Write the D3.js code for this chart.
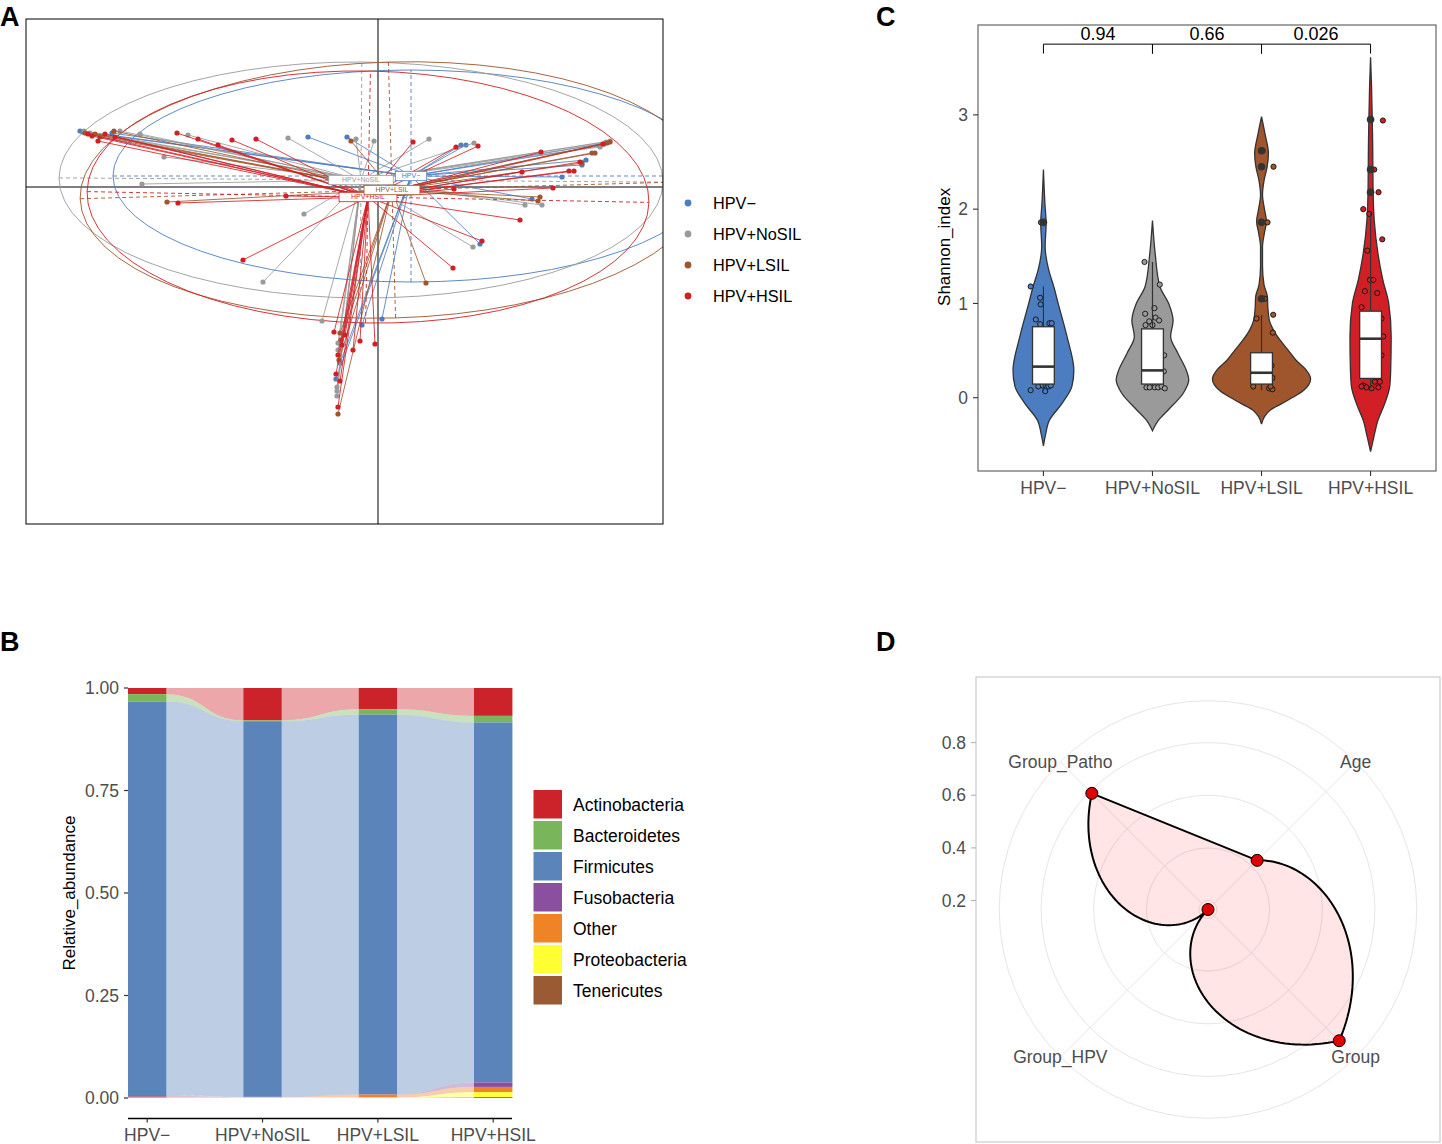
<!DOCTYPE html>
<html><head><meta charset="utf-8">
<script src="https://cdn.jsdelivr.net/npm/d3@7"></script>
<style>
body{margin:0;background:#fff}
svg{display:block}
text{font-family:"Liberation Sans",Arial,Helvetica,sans-serif}
</style>
</head><body>
<svg id="fig" width="1442" height="1144"></svg>
<script>
// ===================== DATA =====================
const groups = ["HPV−","HPV+NoSIL","HPV+LSIL","HPV+HSIL"];
const groupColors = ["#4C7DC0","#9A9A9A","#A0562C","#D21F26"];

// ---- Panel A (ordination, axis units) ----
const pcoaXLim = [-1.76, 1.425];
const pcoaYLim = [-1.685, 0.84];
const centroidX = [0.165, -0.085, 0.07, -0.05];
const centroidY = [0.055, 0.035, -0.015, -0.05];
const ellipseRx = [1.49, 1.51, 1.56, 1.405];
const ellipseRy = [0.53, 0.59, 0.64, 0.63];
const ellipseAngle = [0, -0.4, 1.6, -1.1];
const sitesHPVneg = [[-1.49,0.28],[-1.475,0.275],[-1.33,0.27],[-0.35,0.25],[-0.155,0.25],[0.415,0.21],[0.44,0.21],[1.04,0.135],[1.02,0.11],[0.92,0.05],[0.77,-0.06],[0.51,-0.285],[0.02,-0.66],[-0.08,-0.69],[-0.21,-0.96],[-0.19,-0.88],[1.135,0.22],[1.11,0.205]];
const sitesNoSIL = [[-1.47,0.28],[-1.44,0.27],[-1.29,0.28],[-1.19,0.265],[-1.07,0.15],[-1.18,0.015],[-0.95,0.26],[-0.45,0.245],[-0.11,0.24],[-0.02,0.23],[0.255,0.24],[0.48,0.22],[1.16,0.23],[1.14,0.225],[1.11,0.20],[1.13,0.215],[0.735,-0.09],[0.82,-0.09],[0.475,-0.30],[-0.37,-0.135],[-0.575,-0.475],[-0.28,-0.67],[-0.20,-0.78],[-0.20,-0.815],[-0.205,-1.00],[-0.205,-1.02],[-0.205,-1.045]];
const sitesLSIL = [[-1.465,0.27],[-1.415,0.265],[-1.32,0.28],[-1.39,0.25],[-1.055,-0.075],[-0.135,0.23],[1.16,0.225],[1.07,0.17],[1.085,0.17],[1.02,0.12],[1.145,0.22],[0.81,-0.05],[0.80,-0.07],[0.24,-0.48],[-0.19,-0.73],[-0.20,-1.135],[-0.195,-0.865],[-0.185,-0.765]];
const sitesHSIL = [[-1.40,0.23],[-1.43,0.255],[-1.365,0.265],[-1.315,0.25],[-1.45,0.265],[-1.005,0.27],[-0.90,0.24],[-0.80,0.21],[-0.73,0.235],[-0.61,0.24],[-1.00,-0.08],[-0.46,-0.045],[-0.675,-0.365],[0.175,0.225],[0.39,0.20],[0.50,0.205],[1.125,0.215],[1.01,0.125],[0.955,0.08],[0.815,0.175],[0.72,0.075],[0.875,-0.005],[0.38,-0.01],[0.71,-0.165],[0.52,-0.27],[0.375,-0.405],[-0.015,-0.785],[-0.09,-0.77],[-0.125,-0.815],[-0.22,-0.725],[-0.20,-0.84],[-0.21,-0.935],[-0.19,-0.97],[-0.20,-1.10],[-0.18,-0.79],[-0.165,-0.74],[0.98,0.08]];
const sitesByGroup = [sitesHPVneg, sitesNoSIL, sitesLSIL, sitesHSIL];

// ---- Panel B (relative abundance) ----
const taxa = ["Actinobacteria","Bacteroidetes","Firmicutes","Fusobacteria","Other","Proteobacteria","Tenericutes"];
const taxaColors = ["#CC2229","#79B55A","#5B84BB","#8B4FA0","#EE8425","#FFFF33","#9A5B34"];
const abActinobacteria = [0.015, 0.079, 0.052, 0.068];
const abBacteroidetes  = [0.018, 0.002, 0.013, 0.016];
const abFirmicutes     = [0.960, 0.916, 0.926, 0.878];
const abFusobacteria   = [0.004, 0.001, 0.001, 0.011];
const abOther          = [0.001, 0.001, 0.007, 0.013];
const abProteobacteria = [0.001, 0.001, 0.001, 0.012];
const abTenericutes    = [0.001, 0.000, 0.000, 0.002];
const abundance = [abActinobacteria, abBacteroidetes, abFirmicutes, abFusobacteria, abOther, abProteobacteria, abTenericutes];
const abundanceTicks = [0, 0.25, 0.5, 0.75, 1];
const abundanceTickLabels = ["0.00","0.25","0.50","0.75","1.00"];

// ---- Panel C (Shannon index) ----
const shannonLim = [-0.777, 3.953];
const shannonTicks = [0, 1, 2, 3];
// violin profiles: [value, relative half-width]
const violinHPVneg = [[-0.51,0],[-0.4,0.04],[-0.24,0.12],[-0.06,0.38],[0.12,0.58],[0.29,0.62],[0.65,0.48],[1.0,0.3],[1.18,0.21],[1.35,0.11],[1.6,0.035],[1.85,0.055],[2.06,0.03],[2.42,0]];
const violinNoSIL = [[-0.35,0],[-0.24,0.12],[-0.13,0.32],[0.05,0.63],[0.19,0.74],[0.29,0.69],[0.47,0.52],[0.65,0.37],[0.82,0.42],[1.0,0.33],[1.18,0.15],[1.53,0.055],[1.88,0]];
const violinLSIL = [[-0.28,0],[-0.2,0.06],[-0.13,0.18],[-0.06,0.42],[0.01,0.66],[0.08,0.86],[0.2,1.0],[0.3,0.9],[0.4,0.7],[0.5,0.55],[0.61,0.38],[0.72,0.24],[0.82,0.16],[0.95,0.13],[1.07,0.12],[1.2,0.05],[1.4,0.02],[1.6,0.02],[1.75,0.06],[1.87,0.1],[2.0,0.06],[2.15,0.02],[2.3,0.05],[2.45,0.115],[2.59,0.14],[2.8,0.07],[2.98,0]];
const violinHSIL = [[-0.57,0],[-0.41,0.07],[-0.24,0.15],[-0.06,0.29],[0.12,0.39],[0.29,0.41],[0.65,0.42],[1.0,0.37],[1.25,0.25],[1.53,0.15],[1.88,0.075],[2.24,0.05],[2.6,0.045],[2.94,0.035],[3.3,0.02],[3.61,0]];
const violins = [violinHPVneg, violinNoSIL, violinLSIL, violinHSIL];
// box stats: [lower whisker, Q1, median, Q3, upper whisker]
const boxStats = [[0.07,0.145,0.33,0.753,1.18],[0.10,0.145,0.29,0.73,1.44],[0.08,0.145,0.265,0.477,0.88],[0.10,0.205,0.626,0.918,1.97]];
const boxOutliers = [[1.86],[],[1.05,1.86,2.45,2.62],[2.18,2.42,2.95]];
// jittered points: [jitter (fraction of category step), value]
const jitterHPVneg = [[-0.117,1.18],[-0.03,1.06],[-0.025,0.99],[-0.07,0.83],[-0.03,0.78],[0.055,0.79],[0.076,0.79],[-0.117,0.08],[-0.046,0.12],[0.016,0.07],[0.046,0.12],[0.067,0.13],[-0.006,0.13],[-0.023,1.86]];
const jitterNoSIL = [[-0.073,1.44],[0.067,1.20],[-0.067,0.89],[0.018,0.95],[-0.03,0.81],[0.028,0.85],[0.061,0.82],[-0.064,0.77],[0,0.77],[0.107,0.45],[0.104,0.28],[-0.055,0.11],[-0.025,0.11],[0.021,0.11],[0.052,0.11],[0.083,0.12],[0.113,0.10]];
const jitterLSIL = [[0.11,2.45],[0.055,1.86],[0.03,1.05],[-0.046,0.84],[0.107,0.88],[0.104,0.69],[0.092,0.34],[0.1,0.21],[0.07,0.10],[0.1,0.09],[0.083,0.12],[-0.076,0.12],[0.01,2.62]];
const jitterHSIL = [[0.113,2.94],[0.034,2.42],[0.073,2.18],[-0.067,2.0],[-0.012,1.95],[0.107,1.68],[-0.03,1.56],[-0.006,1.25],[0.025,1.25],[-0.052,1.13],[0.061,1.11],[-0.083,0.96],[0.1,0.84],[0.117,0.65],[0.1,0.45],[-0.067,0.13],[-0.037,0.11],[0.009,0.10],[0.071,0.11],[0.039,0.17],[-0.083,0.12],[0.085,0.17]];
const jitters = [jitterHPVneg, jitterNoSIL, jitterLSIL, jitterHSIL];
const pairLabels = ["0.94","0.66","0.026"];
const bracketValue = 3.75;

// ---- Panel D (radar) ----
const radarVars = ["Age","Group","Group_HPV","Group_Patho"];
const radarValues = [0.43, 0.871, 0.166, 0.79];
const radarTicks = [0.2, 0.4, 0.6, 0.8];

// ===================== DRAW =====================
const svg = d3.select("#fig");
const GREY30 = "#4d4d4d";

// ---------- Panel A ----------
(function(){
  const P = {l:26, t:19, r:663, b:524};
  const x = d3.scaleLinear().domain(pcoaXLim).range([P.l, P.r]);
  const y = d3.scaleLinear().domain(pcoaYLim).range([P.b, P.t]);
  const g = svg.append("g");
  g.append("clipPath").attr("id","clipA").append("rect")
    .attr("x",P.l).attr("y",P.t).attr("width",P.r-P.l).attr("height",P.b-P.t);
  const p = g.append("g").attr("clip-path","url(#clipA)");
  p.append("line").attr("x1",x(pcoaXLim[0])).attr("x2",x(pcoaXLim[1])).attr("y1",y(0)).attr("y2",y(0)).attr("stroke","#000").attr("stroke-width",1);
  p.append("line").attr("x1",x(0)).attr("x2",x(0)).attr("y1",y(pcoaYLim[0])).attr("y2",y(pcoaYLim[1])).attr("stroke","#000").attr("stroke-width",1);
  groups.forEach((gr,i)=>{
    const col = groupColors[i], cx = centroidX[i], cy = centroidY[i];
    const rx = ellipseRx[i], ry = ellipseRy[i], a = ellipseAngle[i]*Math.PI/180;
    p.append("ellipse").attr("cx",x(cx)).attr("cy",y(cy))
      .attr("rx",x(cx+rx)-x(cx)).attr("ry",y(cy)-y(cy+ry))
      .attr("transform",`rotate(${-ellipseAngle[i]},${x(cx)},${y(cy)})`)
      .attr("fill","none").attr("stroke",col).attr("stroke-width",0.9);
    [[Math.cos(a)*rx, Math.sin(a)*rx],[-Math.sin(a)*ry, Math.cos(a)*ry]].forEach(([dx,dy])=>{
      p.append("line").attr("x1",x(cx-dx)).attr("y1",y(cy-dy)).attr("x2",x(cx+dx)).attr("y2",y(cy+dy))
        .attr("stroke",col).attr("stroke-width",0.9).attr("stroke-dasharray","4,3");
    });
  });
  groups.forEach((gr,i)=>{
    const col = groupColors[i];
    const gg = p.append("g");
    gg.selectAll("line").data(sitesByGroup[i]).join("line")
      .attr("x1",x(centroidX[i])).attr("y1",y(centroidY[i]))
      .attr("x2",d=>x(d[0])).attr("y2",d=>y(d[1]))
      .attr("stroke",col).attr("stroke-width",0.85);
    gg.selectAll("circle").data(sitesByGroup[i]).join("circle")
      .attr("cx",d=>x(d[0])).attr("cy",d=>y(d[1])).attr("r",2.6).attr("fill",col);
  });
  [3,1,0,2].forEach(i=>{
    const col = groupColors[i];
    const lg = p.append("g");
    const t = lg.append("text").attr("x",x(centroidX[i])).attr("y",y(centroidY[i])).attr("dy","0.35em")
      .attr("text-anchor","middle").attr("font-size",7).attr("fill",col).text(groups[i]);
    const w = t.node().getComputedTextLength()*1.7;
    lg.insert("rect","text").attr("x",x(centroidX[i])-w/2).attr("y",y(centroidY[i])-4.7)
      .attr("width",w).attr("height",9.4).attr("fill","#fff").attr("stroke",col).attr("stroke-width",0.8);
  });
  g.append("rect").attr("x",P.l).attr("y",P.t).attr("width",P.r-P.l).attr("height",P.b-P.t)
    .attr("fill","none").attr("stroke","#000").attr("stroke-width",1);
  groups.forEach((gr,i)=>{
    g.append("circle").attr("cx",688).attr("cy",203+31*i).attr("r",3.4).attr("fill",groupColors[i]);
    g.append("text").attr("x",713).attr("y",203+31*i).attr("dy","0.35em").attr("font-size",16.3).attr("fill","#000").text(gr);
  });
})();

// ---------- Panel B ----------
(function(){
  const P = {l:128, r:512, t:667.5, b:1118.5};
  const x = d3.scalePoint().domain(groups).range([147.2, 493.2]);
  const y = d3.scaleLinear().domain([0,1]).range([1098, 688]);
  const bw = x.step()/3;
  const g = svg.append("g");
  const stacks = groups.map((gr,j)=>{
    let top = 1; return taxa.map((t,k)=>{ const v = abundance[k][j]; const s = {top, bot: top - v}; top -= v; return s; });
  });
  for (let j=0;j<groups.length-1;j++){
    const x1 = x(groups[j]) + bw/2, x2 = x(groups[j+1]) - bw/2, xm = (x1+x2)/2;
    taxa.forEach((t,k)=>{
      const a = stacks[j][k], b = stacks[j+1][k];
      const d = `M${x1},${y(a.top)} C${xm},${y(a.top)} ${xm},${y(b.top)} ${x2},${y(b.top)} L${x2},${y(b.bot)} C${xm},${y(b.bot)} ${xm},${y(a.bot)} ${x1},${y(a.bot)} Z`;
      g.append("path").attr("d",d).attr("fill",taxaColors[k]).attr("fill-opacity",0.4);
    });
  }
  groups.forEach((gr,j)=>{
    taxa.forEach((t,k)=>{
      const s = stacks[j][k];
      g.append("rect").attr("x",x(gr)-bw/2).attr("width",bw)
        .attr("y",y(s.top)).attr("height",Math.max(0,y(s.bot)-y(s.top))).attr("fill",taxaColors[k]);
    });
  });
  g.append("line").attr("x1",P.l).attr("x2",P.r).attr("y1",P.b).attr("y2",P.b).attr("stroke","#000").attr("stroke-width",1.6);
  groups.forEach(gr=>{
    g.append("line").attr("x1",x(gr)).attr("x2",x(gr)).attr("y1",P.b).attr("y2",P.b+4).attr("stroke","#333").attr("stroke-width",1.2);
    g.append("text").attr("x",x(gr)).attr("y",1141).attr("text-anchor","middle").attr("font-size",17.5).attr("fill",GREY30).text(gr);
  });
  abundanceTicks.forEach((v,i)=>{
    g.append("line").attr("x1",P.l-4).attr("x2",P.l).attr("y1",y(v)).attr("y2",y(v)).attr("stroke","#333").attr("stroke-width",1.2);
    g.append("text").attr("x",P.l-9).attr("y",y(v)).attr("dy","0.35em").attr("text-anchor","end").attr("font-size",17.5).attr("fill",GREY30).text(abundanceTickLabels[i]);
  });
  g.append("text").attr("transform",`translate(75,${y(0.5)}) rotate(-90)`).attr("text-anchor","middle").attr("font-size",17).attr("fill","#000").text("Relative_abundance");
  taxa.forEach((t,k)=>{
    g.append("rect").attr("x",533.5).attr("y",790+31*k).attr("width",28.5).attr("height",28.5).attr("fill",taxaColors[k]);
    g.append("text").attr("x",573).attr("y",804.5+31*k).attr("dy","0.35em").attr("font-size",17.5).attr("fill","#000").text(t);
  });
})();

// ---------- Panel C ----------
(function(){
  const P = {l:978, t:25, r:1436, b:471};
  const x = d3.scalePoint().domain(groups).range([P.l, P.r]).padding(0.6);
  const y = d3.scaleLinear().domain(shannonLim).range([P.b, P.t]);
  const step = x.step();
  const wScale = d3.scaleLinear().domain([0,1]).range([0, 0.45*step]);
  const g = svg.append("g");
  groups.forEach((gr,i)=>{
    const cx = x(gr);
    const area = d3.area().curve(d3.curveMonotoneY)
      .y(d=>y(d[0])).x0(d=>cx - wScale(d[1])).x1(d=>cx + wScale(d[1]));
    g.append("path").attr("d",area(violins[i])).attr("fill",groupColors[i]).attr("stroke","#333").attr("stroke-width",1.3);
    g.selectAll(null).data(jitters[i]).join("circle")
      .attr("cx",d=>cx + d[0]*step).attr("cy",d=>y(d[1])).attr("r",2.6)
      .attr("fill",groupColors[i]).attr("stroke","#111").attr("stroke-width",0.9);
    const [lo,q1,md,q3,hi] = boxStats[i];
    const bw = 0.2*step;
    g.append("line").attr("x1",cx).attr("x2",cx).attr("y1",y(q3)).attr("y2",y(hi)).attr("stroke","#333").attr("stroke-width",1.2);
    g.append("line").attr("x1",cx).attr("x2",cx).attr("y1",y(q1)).attr("y2",y(lo)).attr("stroke","#333").attr("stroke-width",1.2);
    g.append("rect").attr("x",cx-bw/2).attr("width",bw).attr("y",y(q3)).attr("height",y(q1)-y(q3))
      .attr("fill","#fff").attr("stroke","#333").attr("stroke-width",1.3);
    g.append("line").attr("x1",cx-bw/2).attr("x2",cx+bw/2).attr("y1",y(md)).attr("y2",y(md)).attr("stroke","#333").attr("stroke-width",2.6);
    boxOutliers[i].forEach(v=>{
      g.append("circle").attr("cx",cx).attr("cy",y(v)).attr("r",3.8).attr("fill","#333");
    });
  });
  for (let i=0;i<groups.length-1;i++){
    const x1 = x(groups[i]), x2 = x(groups[i+1]);
    g.append("path").attr("d",`M${x1},${y(bracketValue-0.1)} L${x1},${y(bracketValue)} L${x2},${y(bracketValue)} L${x2},${y(bracketValue-0.1)}`)
      .attr("fill","none").attr("stroke","#000").attr("stroke-width",1);
    g.append("text").attr("x",(x1+x2)/2).attr("y",y(bracketValue)-4).attr("text-anchor","middle").attr("font-size",18).attr("fill","#000").text(pairLabels[i]);
  }
  g.append("rect").attr("x",P.l).attr("y",P.t).attr("width",P.r-P.l).attr("height",P.b-P.t).attr("fill","none").attr("stroke","#666").attr("stroke-width",1.2);
  shannonTicks.forEach(v=>{
    g.append("line").attr("x1",P.l-5).attr("x2",P.l).attr("y1",y(v)).attr("y2",y(v)).attr("stroke","#333").attr("stroke-width",1.1);
    g.append("text").attr("x",P.l-10).attr("y",y(v)).attr("dy","0.35em").attr("text-anchor","end").attr("font-size",17.5).attr("fill",GREY30).text(v);
  });
  groups.forEach(gr=>{
    g.append("line").attr("x1",x(gr)).attr("x2",x(gr)).attr("y1",P.b).attr("y2",P.b+5).attr("stroke","#333").attr("stroke-width",1.1);
    g.append("text").attr("x",x(gr)).attr("y",494).attr("text-anchor","middle").attr("font-size",17.5).attr("fill",GREY30).text(gr);
  });
  g.append("text").attr("transform",`translate(950,${y(1.6)}) rotate(-90)`).attr("text-anchor","middle").attr("font-size",17).attr("fill","#000").text("Shannon_index");
})();

// ---------- Panel D ----------
(function(){
  const P = {l:976, t:677, r:1440, b:1142};
  const size = P.r - P.l;
  const cx = (P.l+P.r)/2, cy = (P.t+P.b)/2;
  const r = d3.scaleLinear().domain(d3.extent(radarValues)).range([0, 0.4*size]);
  const outer = 0.45*size;
  const theta = i => (i+0.5)/radarVars.length*2*Math.PI;
  const g = svg.append("g");
  const grid = "#e2e2e2";
  radarTicks.forEach(t=>{
    g.append("circle").attr("cx",cx).attr("cy",cy).attr("r",r(t)).attr("fill","none").attr("stroke",grid).attr("stroke-width",0.9);
  });
  g.append("circle").attr("cx",cx).attr("cy",cy).attr("r",outer).attr("fill","none").attr("stroke",grid).attr("stroke-width",0.9);
  radarVars.forEach((v,i)=>{
    const a = theta(i);
    g.append("line").attr("x1",cx).attr("y1",cy).attr("x2",cx+outer*Math.sin(a)).attr("y2",cy-outer*Math.cos(a)).attr("stroke",grid).attr("stroke-width",0.9);
  });
  const pts = [];
  const N = 60;
  for (let i=0;i<radarVars.length-1;i++){
    for (let k=0;k<=N;k++){
      const t = k/N;
      const a = theta(i) + (theta(i+1)-theta(i))*t;
      const rv = radarValues[i] + (radarValues[i+1]-radarValues[i])*t;
      pts.push([cx + r(rv)*Math.sin(a), cy - r(rv)*Math.cos(a)]);
    }
  }
  g.append("path").attr("d","M"+pts.map(p=>p.join(",")).join("L")+"Z")
    .attr("fill","#ff0000").attr("fill-opacity",0.1).attr("stroke","#000").attr("stroke-width",2).attr("stroke-linejoin","round");
  radarVars.forEach((v,i)=>{
    const a = theta(i);
    g.append("circle").attr("cx",cx + r(radarValues[i])*Math.sin(a)).attr("cy",cy - r(radarValues[i])*Math.cos(a))
      .attr("r",6).attr("fill","#E00000").attr("stroke","#000").attr("stroke-width",1);
    g.append("text").attr("x",cx + outer*Math.sin(a)).attr("y",cy - outer*Math.cos(a)).attr("dy","0.35em")
      .attr("text-anchor","middle").attr("font-size",17.5).attr("fill",GREY30).text(v);
  });
  g.append("rect").attr("x",P.l).attr("y",P.t).attr("width",P.r-P.l).attr("height",P.b-P.t).attr("fill","none").attr("stroke","#cccccc").attr("stroke-width",1.2);
  radarTicks.forEach(t=>{
    g.append("line").attr("x1",P.l-5).attr("x2",P.l).attr("y1",cy-r(t)).attr("y2",cy-r(t)).attr("stroke","#b3b3b3").attr("stroke-width",1.1);
    g.append("text").attr("x",P.l-10).attr("y",cy-r(t)).attr("dy","0.35em").attr("text-anchor","end").attr("font-size",17.5).attr("fill",GREY30).text(t.toFixed(1));
  });
})();

// ---------- Panel tags ----------
[["A",0,26],["C",876,26],["B",0,651],["D",876,651]].forEach(([t,x,y])=>{
  svg.append("text").attr("x",x).attr("y",y).attr("font-size",27).attr("font-weight","bold").attr("fill","#000").text(t);
});
</script>
</body></html>
